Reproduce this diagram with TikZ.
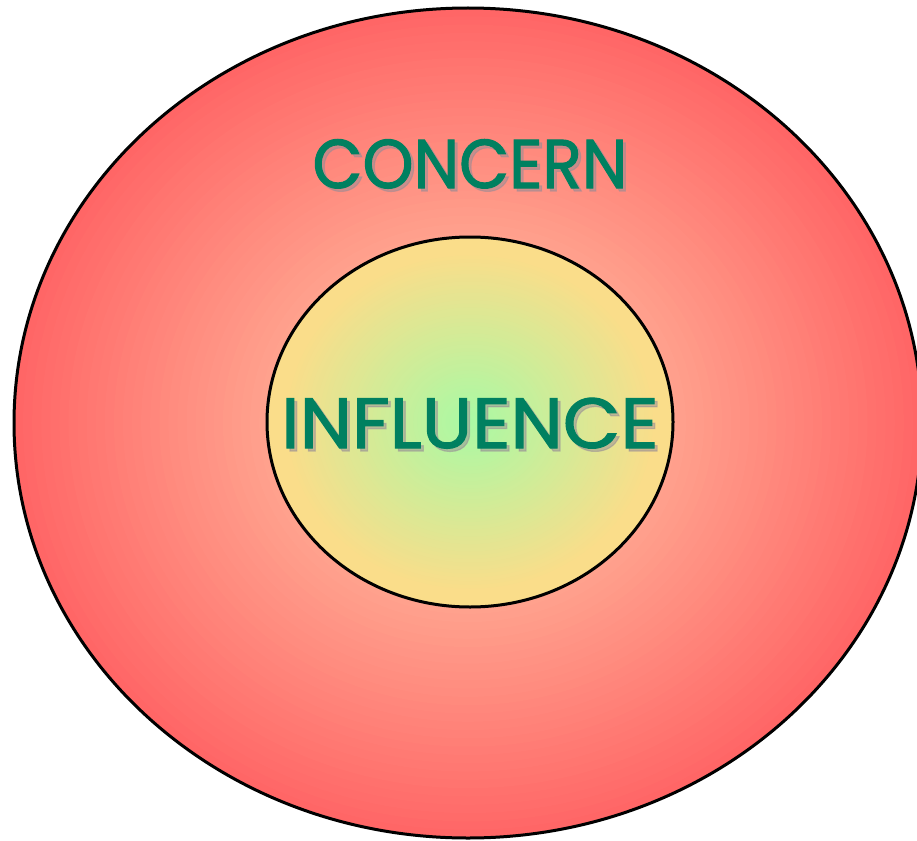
\documentclass[tikz,border=0pt]{standalone}
\usepackage{fontspec}
\usetikzlibrary{shapes.geometric}
\setmainfont{Poppins}
\newfontfamily\lblfont{Poppins}[FakeBold=1.6]
\definecolor{txtgreen}{RGB}{0,128,96}
\definecolor{outred}{RGB}{255,102,102}
\definecolor{outpeach}{RGB}{255,205,170}
\definecolor{ingreen}{RGB}{168,250,165}
\definecolor{inyellow}{RGB}{250,221,138}
\definecolor{shadowc}{RGB}{150,140,150}
\tikzset{
  ring/.style={draw=black, line width=3pt},
  label/.style={text=txtgreen, inner sep=0pt, anchor=base},
  lshadow/.style={text=shadowc, opacity=0.5, inner sep=0pt, anchor=base}
}
\begin{document}
\begin{tikzpicture}[x=1pt,y=-1pt]
\useasboundingbox (0,0) rectangle (917,840);
% outer gradient
\foreach \i in {100,98,...,2}{
  \pgfmathsetmacro{\p}{100*(\i/100)^1.1}
  \pgfmathsetmacro{\rx}{4.54*\i}
  \pgfmathsetmacro{\ry}{4.15*\i}
  \fill[outred!\p!outpeach] (468,423) ellipse ({\rx pt} and {\ry pt});
}
\node[ring, ellipse, minimum width=908, minimum height=830, inner sep=0pt] (concern) at (468,423) {};
% inner gradient
\foreach \i in {100,98,...,2}{
  \pgfmathsetmacro{\p}{min(100,100*\i/92)}
  \pgfmathsetmacro{\rx}{2.03*\i}
  \pgfmathsetmacro{\ry}{1.85*\i}
  \fill[inyellow!\p!ingreen] (470,422) ellipse ({\rx pt} and {\ry pt});
}
\node[ring, ellipse, minimum width=406, minimum height=370, inner sep=0pt] (influence) at (470,422) {};
\node[lshadow, font=\lblfont\fontsize{69}{69}\selectfont, xscale=0.94] at (473,191) {CONCERN};
\node[label, font=\lblfont\fontsize{69}{69}\selectfont, xscale=0.94] (tc) at (470,188) {CONCERN};
\node[lshadow, font=\lblfont\fontsize{71}{71}\selectfont, xscale=1.05] at (473,451) {INFLUENCE};
\node[label, font=\lblfont\fontsize{71}{71}\selectfont, xscale=1.05] (ti) at (470,448) {INFLUENCE};
\end{tikzpicture}
\end{document}
